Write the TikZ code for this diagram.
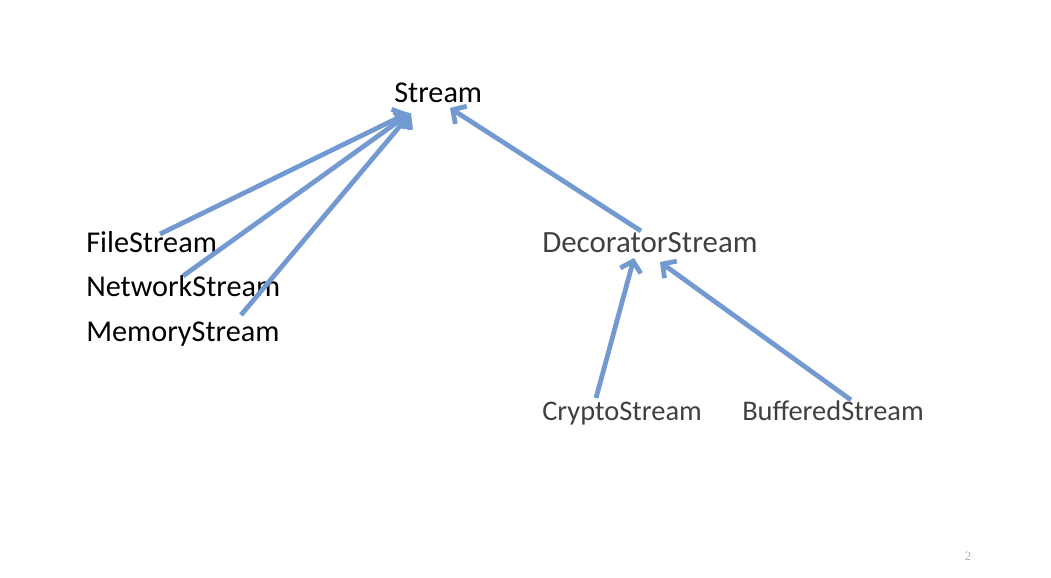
\documentclass[tikz,border=0pt]{standalone}
\usepackage{fontspec}
\setmainfont{Carlito}
\newfontfamily\slidenum{Liberation Serif}
\usetikzlibrary{arrows.meta,calc}
\definecolor{linkblue}{RGB}{114,153,208}
\definecolor{darktext}{RGB}{64,64,64}

\begin{document}
\begin{tikzpicture}[x=0.025cm, y=-0.025cm,
    lbl/.style={inner sep=0pt, anchor=base west, font=\fontsize{21.5}{24}\selectfont},
    sublbl/.style={lbl, text=darktext, font=\fontsize{20.2}{24}\selectfont},
    inh/.style={draw=linkblue, line width=3.4pt, -{Straight Barb[length=7pt, width=15pt]}}]
    % Page frame
    \useasboundingbox (0,0) rectangle (1051,578);

    % Base class
    \node[lbl] (stream) at (394,102) {Stream};

    % Concrete streams
    \node[lbl] (file) at (86,252) {FileStream};
    \node[lbl] (network) at (86,296) {NetworkStream};
    \node[lbl] (memory) at (86,341) {MemoryStream};

    % Decorators
    \node[lbl, text=darktext, font=\fontsize{22}{24}\selectfont] (decorator) at (542,252) {DecoratorStream};
    \node[sublbl] (crypto) at (542,420) {CryptoStream};
    \node[sublbl] (buffered) at (742,420) {BufferedStream};

    % Inheritance arrows to Stream
    \draw[inh] ($(file.base west)+(74,-18)$) -- ($(stream.base west)+(14,11)$);
    \draw[inh] ($(network.base west)+(97,-20)$) -- ($(stream.base west)+(16,11)$);
    \draw[inh] ($(memory.base west)+(155,-26)$) -- ($(stream.base west)+(17,11)$);
    \draw[inh] ($(decorator.base west)+(99,-21)$) -- ($(stream.base west)+(56,6)$);

    % Inheritance arrows to DecoratorStream
    \draw[inh] ($(crypto.base west)+(54,-22)$) -- ($(decorator.base west)+(92,6)$);
    \draw[inh] ($(buffered.base west)+(109,-20)$) -- ($(decorator.base west)+(118,10)$);

    % Slide number
    \node[inner sep=0pt, text=black!30, font=\fontsize{9}{10}\selectfont\slidenum] (pagenum) at (968,556) {2};
\end{tikzpicture}
\end{document}
